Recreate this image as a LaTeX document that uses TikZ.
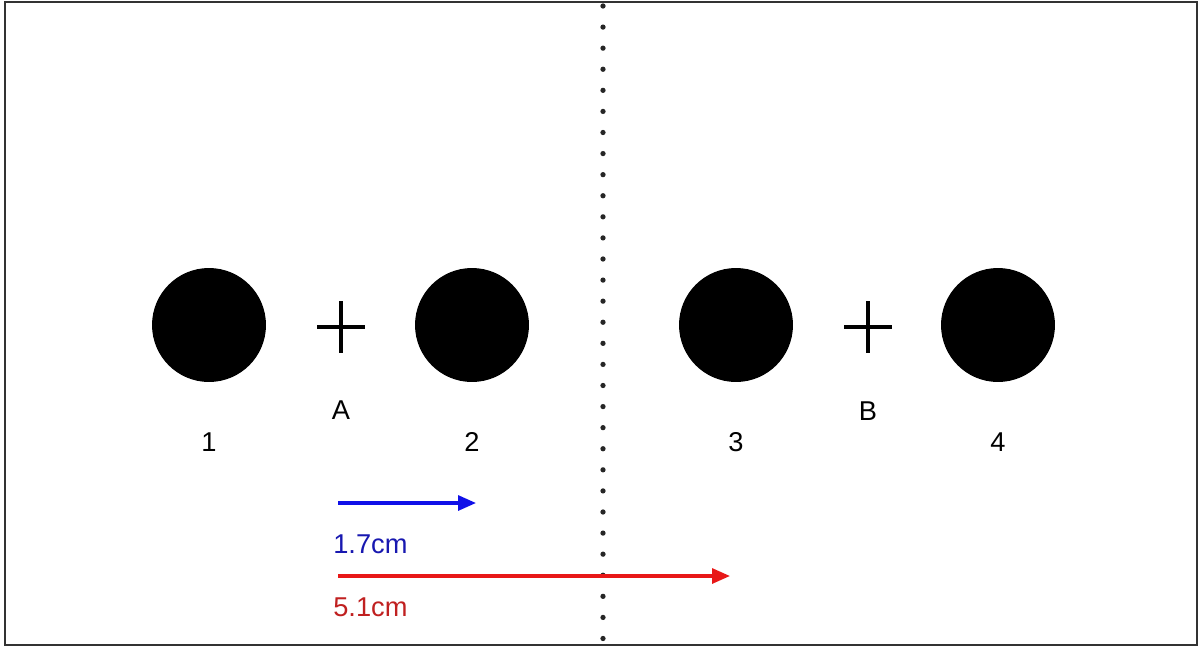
\documentclass[tikz,border=0pt]{standalone}
\usepackage{fontspec}
\setmainfont{Liberation Sans}
\usetikzlibrary{arrows.meta,calc,positioning}
\definecolor{arrowblue}{HTML}{1010E8}
\definecolor{textblue}{HTML}{1818B0}
\definecolor{arrowred}{HTML}{E81818}
\definecolor{textred}{HTML}{C02020}
\tikzset{
  disc/.style={
    circle,
    fill=black,
    minimum size=2.28cm,
    inner sep=0pt
  },
  plusbar/.style={
    line width=2.6pt,
    draw=black
  },
  numlabel/.style={
    text=black,
    inner sep=0pt,
    font=\fontsize{15.5}{18}\selectfont
  },
  shiftarrow/.style={
    -{Triangle[length=3.6mm,width=3mm]},
    line width=1.8pt
  },
  measure/.style={
    anchor=west,
    inner sep=0pt,
    font=\fontsize{15.5}{18}\selectfont
  }
}

\begin{document}
\begin{tikzpicture}[x=0.02cm,y=-0.02cm]
  \useasboundingbox (0,0) rectangle (1198,646);
  \draw[line width=1.4pt, draw=black!80] (5,2) rectangle (1197,645);

  % divider
  \draw[line width=3pt, line cap=round, dash pattern=on 0pt off 12pt, draw=black!85]
    (603,6) -- (603,645);

  % pair A
  \node[disc] (dot1) at (209,325) {};
  \node[disc] (dot2) at (472,325) {};
  \coordinate (A) at (341,327);
  \draw[plusbar] ($(A)+(-24,0)$) -- ($(A)+(24,0)$);
  \draw[plusbar] ($(A)+(0,-26)$) -- ($(A)+(0,26)$);

  % pair B
  \node[disc] (dot3) at (736,325) {};
  \node[disc] (dot4) at (998,325) {};
  \coordinate (B) at (868,327);
  \draw[plusbar] ($(B)+(-24,0)$) -- ($(B)+(24,0)$);
  \draw[plusbar] ($(B)+(0,-26)$) -- ($(B)+(0,26)$);

  \node[numlabel] (labA) at (341,410) {A};
  \node[numlabel] (labB) at (868,411) {B};
  \node[numlabel] (lab1) at (209,442) {1};
  \node[numlabel] (lab2) at (472,442) {2};
  \node[numlabel] (lab3) at (736,442) {3};
  \node[numlabel] (lab4) at (998,442) {4};

  % shifts
  \coordinate (blue0) at (338,503);
  \coordinate (blue1) at (476,503);
  \coordinate (red0) at (338,576);
  \coordinate (red1) at (730,576);
  \draw[shiftarrow, draw=arrowblue, fill=arrowblue] (blue0) -- (blue1);
  \draw[shiftarrow, draw=arrowred, fill=arrowred] (red0) -- (red1);
  \node[measure, text=textblue] (short) at (333,544) {1.7cm};
  \node[measure, text=textred] (long) at (333,607) {5.1cm};
\end{tikzpicture}
\end{document}
